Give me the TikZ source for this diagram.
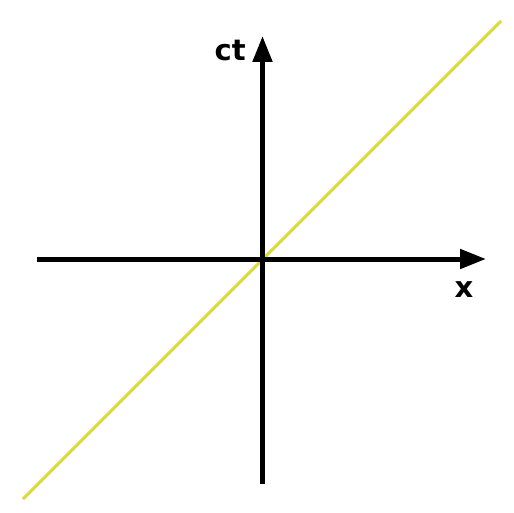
\documentclass[tikz,border=0pt]{standalone}
\usepackage{fontspec}
\setsansfont{DejaVu Sans}
\usetikzlibrary{arrows.meta}
\definecolor{lightray}{RGB}{218,218,64}

\begin{document}
\begin{tikzpicture}[x=1pt,y=-1pt,
  axisline/.style={line width=5pt,-{Triangle[length=26pt,width=19pt]}},
  axislabel/.style={font=\sffamily\bfseries\fontsize{29}{29}\selectfont,inner sep=0pt}]
\useasboundingbox[fill=white] (0,0) rectangle (514,513);
\coordinate (o) at (262.5,259);
\coordinate (xl) at (37,259);
\coordinate (xr) at (486,259);
\coordinate (tb) at (262.5,484);
\coordinate (tt) at (262.5,36);
\coordinate (rayb) at (23,499);
\coordinate (rayt) at (501,21);
% light ray
\draw[lightray,line width=3pt] (rayb)--(rayt);
% axes
\draw[axisline] (xl)--(xr);
\draw[axisline] (tb)--(tt);
\node[axislabel,anchor=base east] (ctlab) at (246,61) {ct};
\node[axislabel,anchor=base] (xlab) at (464,297) {x};
\end{tikzpicture}
\end{document}
